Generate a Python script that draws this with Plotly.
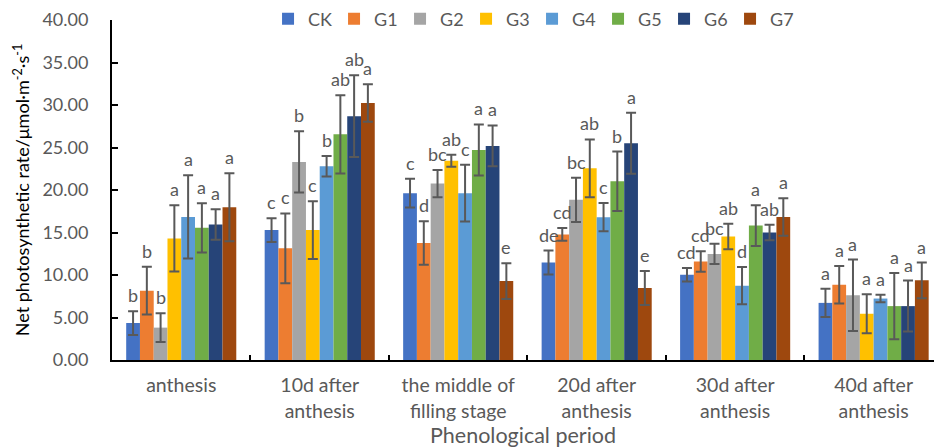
import plotly.graph_objects as go

# Phenological periods (x categories)
periods = [
    "anthesis",
    "10d after<br>anthesis",
    "the middle of<br>filling stage",
    "20d after<br>anthesis",
    "30d after<br>anthesis",
    "40d after<br>anthesis",
]

treatments = ["CK", "G1", "G2", "G3", "G4", "G5", "G6", "G7"]
colors = ["#4472C4", "#ED7D31", "#A5A5A5", "#FFC000",
          "#5B9BD5", "#70AD47", "#264478", "#9E480E"]

# Mean net photosynthetic rate per treatment, one value per period
ck = [4.35, 15.28, 19.63, 11.47, 10.03, 6.72]
g1 = [8.16, 13.14, 13.76, 14.77, 11.58, 8.86]
g2 = [3.81, 23.30, 20.76, 18.85, 12.48, 7.62]
g3 = [14.30, 15.28, 23.44, 22.55, 14.54, 5.44]
g4 = [16.83, 22.80, 19.63, 16.80, 8.75, 7.23]
g5 = [15.55, 26.55, 24.72, 21.03, 15.82, 6.34]
g6 = [15.94, 28.69, 25.19, 25.50, 15.00, 6.34]
g7 = [17.96, 30.24, 9.29, 8.47, 16.83, 9.37]

# Standard deviations
ck_sd = [1.4, 1.4, 1.7, 1.4, 0.8, 1.66]
g1_sd = [2.8, 4.1, 2.56, 0.75, 1.2, 2.2]
g2_sd = [1.7, 3.6, 1.6, 2.6, 1.2, 4.2]
g3_sd = [3.9, 3.4, 0.7, 3.4, 1.5, 2.3]
g4_sd = [4.9, 1.2, 3.35, 1.66, 2.2, 0.45]
g5_sd = [2.9, 4.6, 3.0, 3.5, 2.4, 3.9]
g6_sd = [1.8, 4.8, 2.4, 3.6, 0.9, 3.0]
g7_sd = [4.0, 2.2, 2.1, 2.0, 2.2, 2.1]

# Significance letters
ck_sig = ["b", "c", "c", "de", "cd", "a"]
g1_sig = ["b", "c", "d", "cd", "cd", "a"]
g2_sig = ["b", "b", "bc", "bc", "bc", "a"]
g3_sig = ["a", "c", "ab", "ab", "ab", "a"]
g4_sig = ["a", "b", "c", "c", "d", "a"]
g5_sig = ["a", "ab", "a", "b", "a", "a"]
g6_sig = ["a", "ab", "a", "a", "ab", "a"]
g7_sig = ["a", "a", "e", "e", "a", "a"]

y_ticks = [0, 5, 10, 15, 20, 25, 30, 35, 40]

values = [ck, g1, g2, g3, g4, g5, g6, g7]
errors = [ck_sd, g1_sd, g2_sd, g3_sd, g4_sd, g5_sd, g6_sd, g7_sd]
letters = [ck_sig, g1_sig, g2_sig, g3_sig, g4_sig, g5_sig, g6_sig, g7_sig]

BARGAP = 0.205
GRAY = "#595959"
FONT = "Lato"

fig = go.Figure()
for name, color, vals, errs in zip(treatments, colors, values, errors):
    fig.add_trace(go.Bar(
        name=name,
        x=periods,
        y=vals,
        marker=dict(color=color, line=dict(width=0)),
        error_y=dict(type="data", array=errs, visible=True,
                     color=GRAY, thickness=2, width=5),
    ))

# Letters above each error bar, centred on its bar
n = len(treatments)
group_w = 1 - BARGAP
bar_w = group_w / n
for j, (vals, errs, sig) in enumerate(zip(values, errors, letters)):
    off = -group_w / 2 + (j + 0.5) * bar_w
    for i, (v, e, s) in enumerate(zip(vals, errs, sig)):
        fig.add_annotation(
            x=i + off, y=v + e, text=s, showarrow=False,
            xanchor="center", yanchor="bottom", yshift=3,
            font=dict(family=FONT, size=18, color=GRAY),
        )

fig.update_layout(
    width=934, height=448,
    margin=dict(l=112, r=0, t=17, b=88),
    paper_bgcolor="white", plot_bgcolor="white",
    barmode="group", bargap=BARGAP, bargroupgap=0,
    font=dict(family=FONT, color=GRAY),
    showlegend=True,
    legend=dict(orientation="h", x=0.511, xanchor="center",
                y=1.003, yanchor="middle",
                font=dict(family=FONT, size=18, color=GRAY),
                entrywidth=21, itemwidth=30, bgcolor="rgba(0,0,0,0)",
                traceorder="normal"),
)

fig.update_xaxes(
    type="category",
    range=[-0.5, 5.436],
    showline=True, linecolor="black", linewidth=2,
    ticks="inside", ticklen=5, tickwidth=2, tickcolor="black",
    tickson="boundaries",
    tickfont=dict(family=FONT, size=19.5, color=GRAY),
    ticklabelstandoff=7,
    title=dict(text="Phenological period", standoff=4,
               font=dict(family=FONT, size=21.5, color=GRAY)),
    showgrid=False, zeroline=False,
)

fig.update_yaxes(
    range=[0, 40], tickvals=y_ticks, tickformat=".2f",
    showline=True, linecolor="black", linewidth=2,
    ticks="inside", ticklen=6, tickwidth=2, tickcolor="black",
    tickfont=dict(family=FONT, size=18, color=GRAY),
    ticklabelstandoff=18,
    title=dict(text="Net photosynthetic rate/μmol·m<sup>-2</sup>·s<sup>-1</sup>",
               standoff=8, font=dict(family=FONT, size=18, color="black")),
    showgrid=False, zeroline=False,
)

fig.write_html("out.html")
